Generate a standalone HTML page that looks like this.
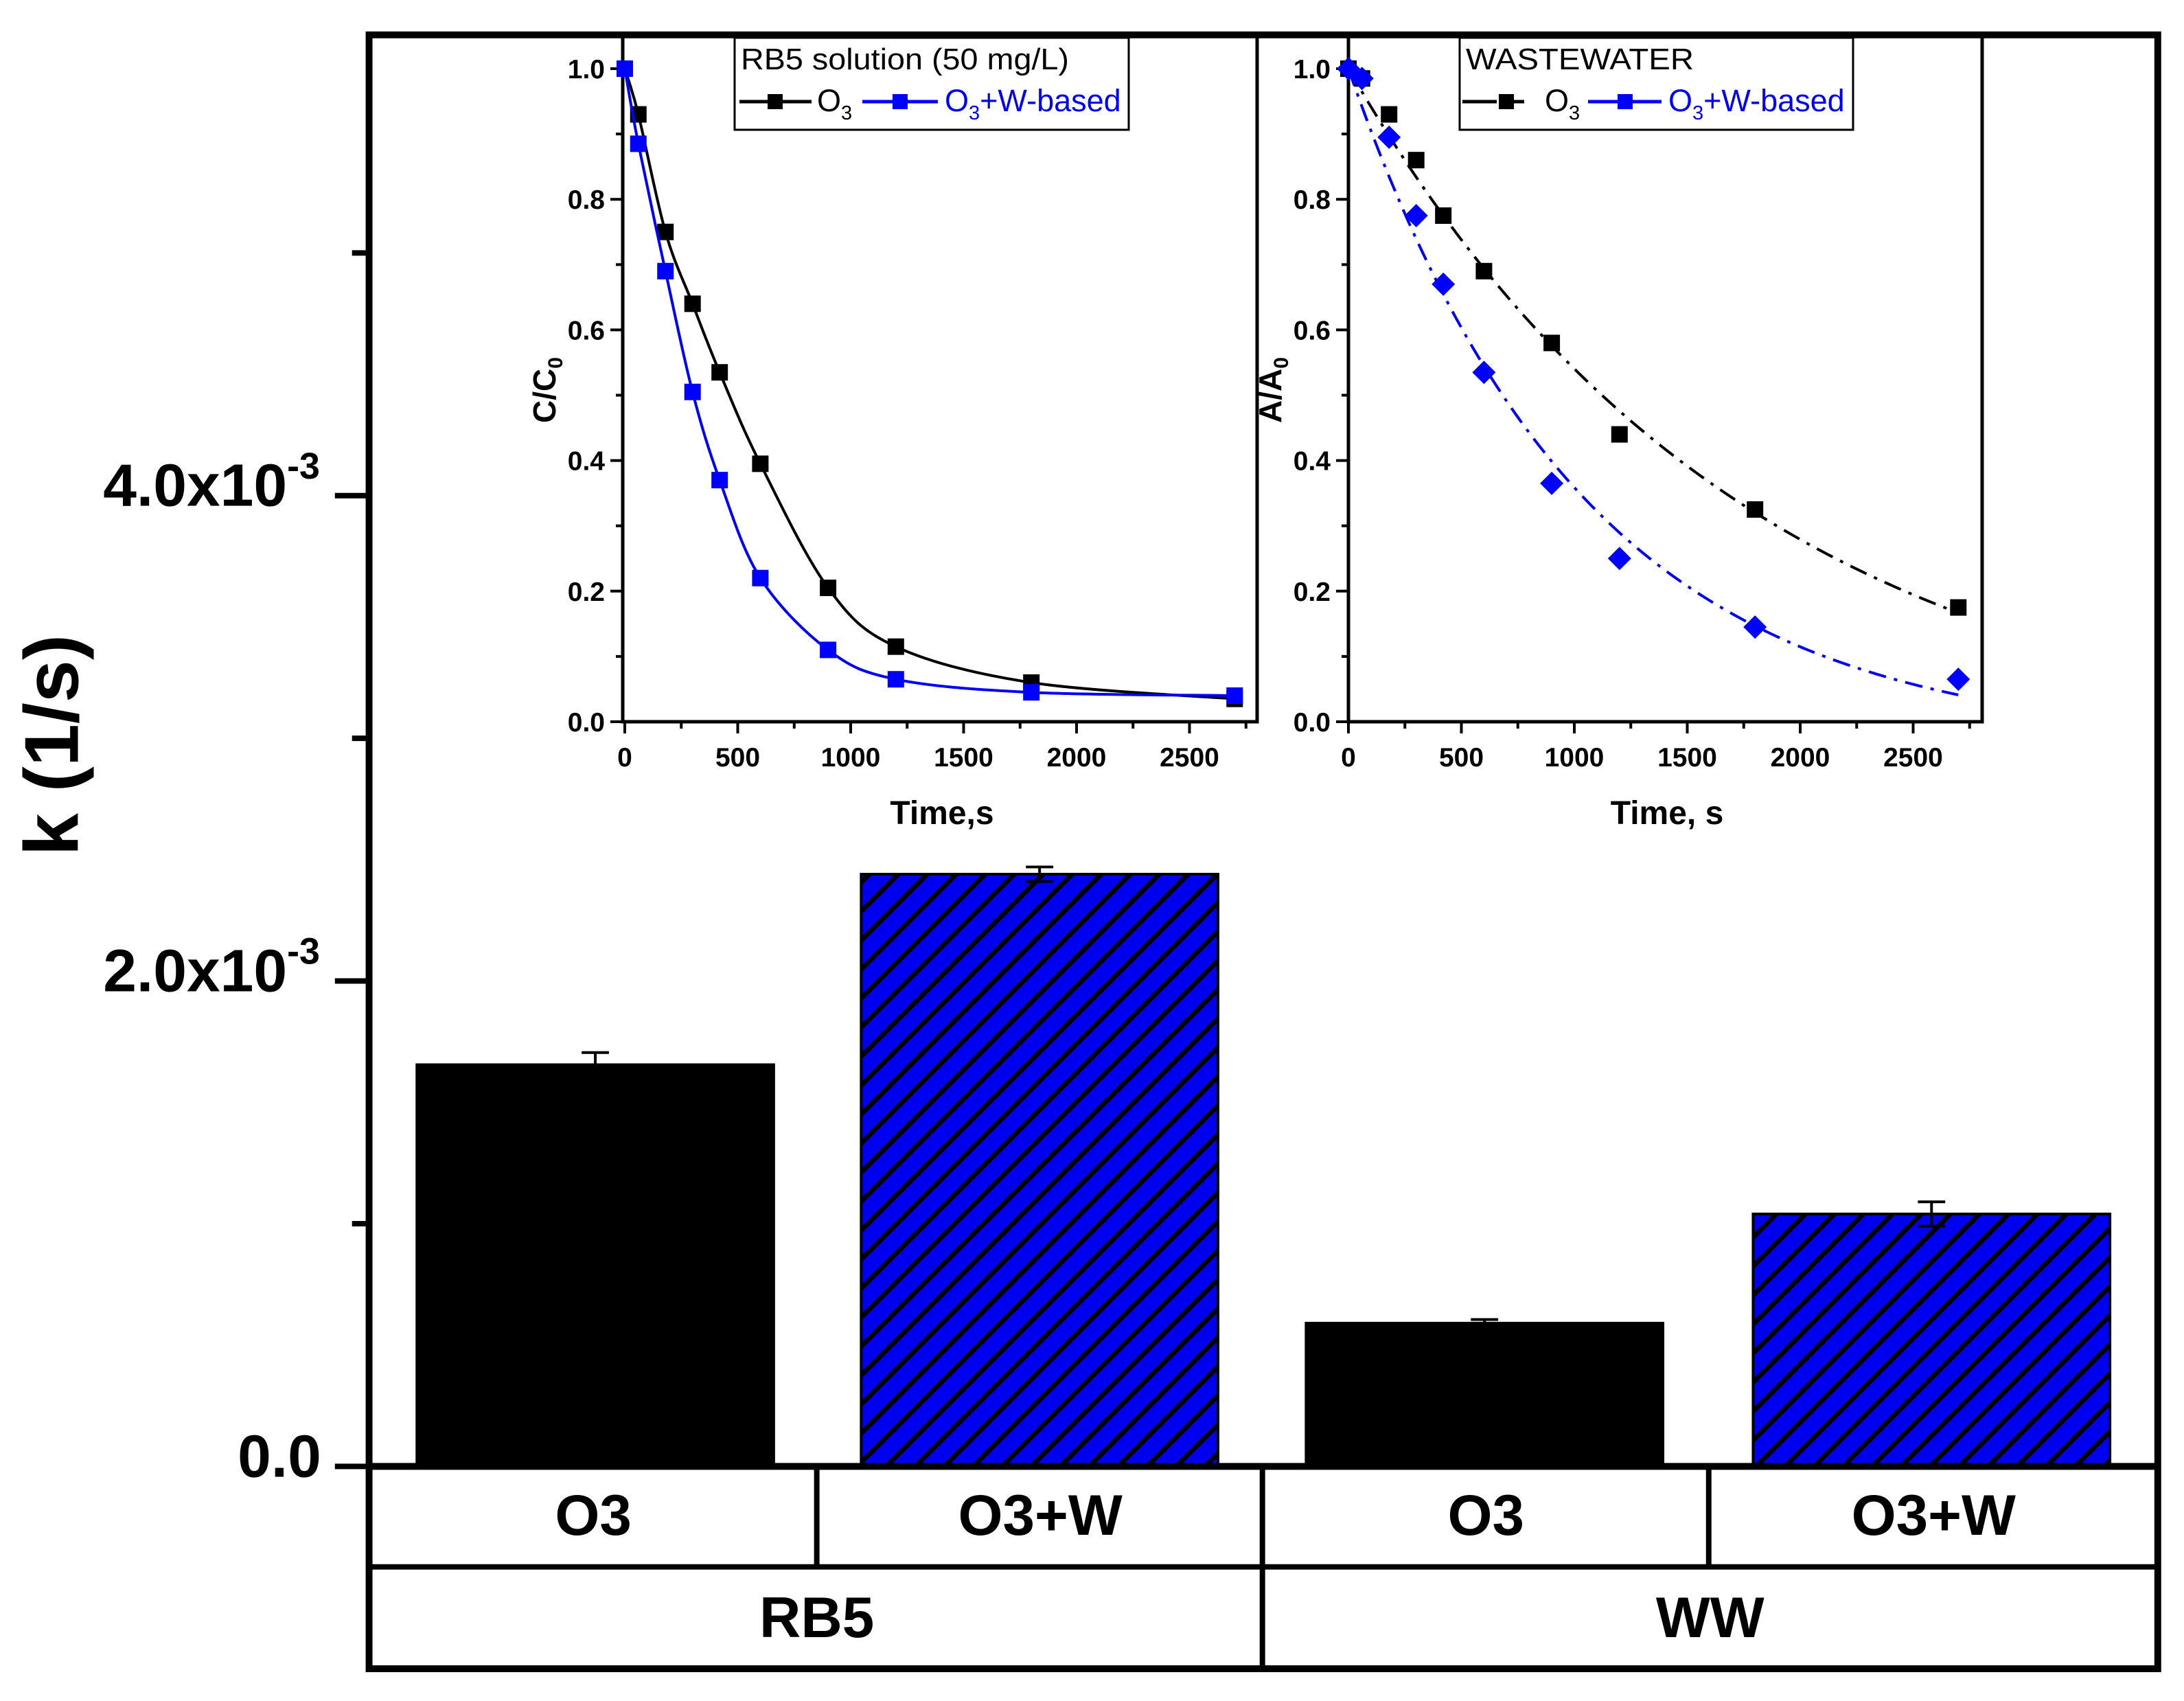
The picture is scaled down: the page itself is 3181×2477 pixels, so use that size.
<!DOCTYPE html>
<html><head><meta charset="utf-8"><style>
html,body{margin:0;padding:0;background:#fff;}
svg{display:block;font-family:"Liberation Sans",Arial,sans-serif;}
</style></head><body>
<svg id="chart" width="3181" height="2477" viewBox="0 0 3181 2477" xmlns="http://www.w3.org/2000/svg">
<defs>
<pattern id="hatch" patternUnits="userSpaceOnUse" width="30" height="30" patternTransform="rotate(45)">
<rect width="30" height="30" fill="#0000f0"/>
<rect x="0" y="0" width="7" height="30" fill="#000"/>
</pattern>
</defs>
<g transform="scale(0.9955)">
<g id="main"></g>
</g>
<g id="inset1"></g>
<g id="inset2"></g>
</svg>
<script>
// ---------- main bar chart data ----------
const barCategories = ["O3", "O3+W", "O3", "O3+W"];
const barGroups = ["RB5", "WW"];
const barValues = [1.655, 2.44, 0.59, 1.04];   // x1e-3 1/s
const barErrors = [0.05, 0.03, 0.015, 0.05];
const yTickValues = [0, 2, 4];
const yTickLabels = ["0.0", "2.0x10", "4.0x10"];
const yTickSup = ["", "-3", "-3"];
const yMinorValues = [1, 3, 5];

// ---------- inset data ----------
const timeVals = [0, 60, 180, 300, 420, 600, 900, 1200, 1800, 2700];
const rb5O3 = [1.0, 0.93, 0.75, 0.64, 0.535, 0.395, 0.205, 0.115, 0.06, 0.035];
const rb5O3W = [1.0, 0.885, 0.69, 0.505, 0.37, 0.22, 0.11, 0.065, 0.045, 0.04];
const wwO3 = [1.0, 0.985, 0.93, 0.86, 0.775, 0.69, 0.58, 0.44, 0.325, 0.175];
const wwO3W = [1.0, 0.985, 0.895, 0.775, 0.67, 0.535, 0.365, 0.25, 0.145, 0.065];
const insetXTicks = [0, 500, 1000, 1500, 2000, 2500];
const insetYTicks = [0, 0.2, 0.4, 0.6, 0.8, 1.0];

const NS = "http://www.w3.org/2000/svg";
function mk(tag, attrs, parent, text) {
  const e = document.createElementNS(NS, tag);
  for (const k in attrs) e.setAttribute(k, attrs[k]);
  if (text !== undefined) e.textContent = text;
  parent.appendChild(e);
  return e;
}

// ---------- main chart ----------
const main = document.getElementById("main");
const FL = 540, FR = 3157, FT = 51, FB = 2441, BASE = 2145, ROW1 = 2292;
const yPix = v => BASE - v * 355;
const barLefts = [610, 1260, 1911, 2565];
const barW = 522;

barValues.forEach((v, i) => {
  const r = mk("rect", {x: barLefts[i], y: yPix(v), width: barW, height: BASE - yPix(v),
    fill: i % 2 ? "url(#hatch)" : "#000", stroke: "#000", "stroke-width": 4}, main);
  
  
  const cx = barLefts[i] + barW / 2;
  const eb = mk("path", {d: `M${cx} ${yPix(v + barErrors[i])}V${yPix(v - barErrors[i])}M${cx-20} ${yPix(v + barErrors[i])}H${cx+20}M${cx-20} ${yPix(v - barErrors[i])}H${cx+20}`,
    stroke: "#000", "stroke-width": 4, fill: "none"}, main);
  
  
});

const frame = mk("rect", {x: FL, y: FT, width: FR - FL, height: FB - FT, fill: "none", stroke: "#000", "stroke-width": 10}, main);


mk("line", {x1: FL, x2: FR, y1: BASE, y2: BASE, stroke: "#000", "stroke-width": 10}, main);
mk("line", {x1: FL, x2: FR, y1: ROW1, y2: ROW1, stroke: "#000", "stroke-width": 8}, main);
mk("line", {x1: 1195, x2: 1195, y1: BASE, y2: ROW1, stroke: "#000", "stroke-width": 8}, main);
mk("line", {x1: 2500, x2: 2500, y1: BASE, y2: ROW1, stroke: "#000", "stroke-width": 8}, main);
mk("line", {x1: 1847, x2: 1847, y1: BASE, y2: FB, stroke: "#000", "stroke-width": 8}, main);

const catCenters = [868, 1522, 2174, 2829];
barCategories.forEach((c, i) => {
  const t = mk("text", {x: catCenters[i], y: 2245, "text-anchor": "middle", "font-size": 84, "font-weight": "bold"}, main, c);
  
  
});
const groupCenters = [1195, 2502];
barGroups.forEach((g, i) => {
  const t = mk("text", {x: groupCenters[i], y: 2395, "text-anchor": "middle", "font-size": 84, "font-weight": "bold"}, main, g);
  
  
});

yTickValues.forEach((v, i) => {
  const y = yPix(v);
  mk("line", {x1: 490, x2: FL, y1: y, y2: y, stroke: "#000", "stroke-width": 8}, main);
  const t = mk("text", {x: yTickSup[i] ? 420 : 470, y: y + 15, "text-anchor": "end", "font-size": 88, "font-weight": "bold"}, main, yTickLabels[i]);
  
  
  if (yTickSup[i]) mk("text", {x: 420, y: y - 25, "font-size": 54, "font-weight": "bold"}, main, yTickSup[i]);
});
yMinorValues.forEach(v => {
  mk("line", {x1: 515, x2: FL, y1: yPix(v), y2: yPix(v), stroke: "#000", "stroke-width": 8}, main);
});
const yt = mk("text", {x: 0, y: 0, transform: "translate(114,1090) rotate(-90)", "text-anchor": "middle", "font-size": 112, "font-weight": "bold"}, main, "k (1/s)");



// ---------- insets ----------
function smoothPath(pts) {
  let d = `M${pts[0][0]} ${pts[0][1]}`;
  for (let i = 0; i < pts.length - 1; i++) {
    const p0 = pts[Math.max(0, i - 1)], p1 = pts[i], p2 = pts[i + 1], p3 = pts[Math.min(pts.length - 1, i + 2)];
    const c1 = [p1[0] + (p2[0] - p0[0]) / 6, p1[1] + (p2[1] - p0[1]) / 6];
    const c2 = [p2[0] - (p3[0] - p1[0]) / 6, p2[1] - (p3[1] - p1[1]) / 6];
    d += `C${c1[0]} ${c1[1]} ${c2[0]} ${c2[1]} ${p2[0]} ${p2[1]}`;
  }
  return d;
}
function fitPath(vals, xP, yP) {
  let best = null;
  for (let k = 0.0001; k < 0.01; k *= 1.01) {
    for (let c = -0.3; c < 0.3; c += 0.005) {
      let e = 0;
      timeVals.forEach((t, i) => { const d = (1 - c) * Math.exp(-k * t) + c - vals[i]; e += d * d; });
      if (!best || e < best.e) best = {e, k, c};
    }
  }
  let d = "";
  for (let t = 0; t <= timeVals[timeVals.length - 1]; t += 20) {
    const y = (1 - best.c) * Math.exp(-best.k * t) + best.c;
    d += (d ? "L" : "M") + xP(t) + " " + yP(y);
  }
  return d;
}
function diamond(x, y, s) { return `M${x} ${y-s}L${x+s} ${y}L${x} ${y+s}L${x-s} ${y}Z`; }

function drawInset(gid, cfg) {
  const g = document.getElementById(gid);
  const xP = t => cfg.x0 + t * 0.329;
  const yP = v => 1051 - v * 951;
  mk("path", {d: `M${cfg.left} ${FT}V1051H${cfg.right}V${FT}`, fill: "none", stroke: "#000", "stroke-width": 5}, g);
  insetYTicks.forEach(v => {
    mk("line", {x1: cfg.left - 18, x2: cfg.left, y1: yP(v), y2: yP(v), stroke: "#000", "stroke-width": 4}, g);
    if (v < 1) mk("line", {x1: cfg.left - 10, x2: cfg.left, y1: yP(v + 0.1), y2: yP(v + 0.1), stroke: "#000", "stroke-width": 4}, g);
    const t = mk("text", {x: cfg.left - 26, y: yP(v) + 14, "text-anchor": "end", "font-size": 39, "font-weight": "bold"}, g, v.toFixed(1));
    
    
  });
  insetXTicks.forEach(v => {
    mk("line", {x1: xP(v), x2: xP(v), y1: 1051, y2: 1068, stroke: "#000", "stroke-width": 4}, g);
    mk("line", {x1: xP(v + 250), x2: xP(v + 250), y1: 1051, y2: 1061, stroke: "#000", "stroke-width": 4}, g);
    const t = mk("text", {x: xP(v), y: 1116, "text-anchor": "middle", "font-size": 39, "font-weight": "bold"}, g, String(v));
    
    
  });
  const xt = mk("text", {x: cfg.xTitleX, y: 1200, "text-anchor": "middle", "font-size": 48, "font-weight": "bold"}, g, cfg.xTitle);
  
  
  const ytl = mk("text", {transform: `translate(${cfg.left - 98},568) rotate(-90)`, "text-anchor": "middle", "font-size": 46, "font-weight": "bold"}, g);
  
  
  mk("tspan", {}, ytl, cfg.yMain);
  mk("tspan", {"font-size": 30, dy: 10}, ytl, "0");

  cfg.series.forEach(s => {
    const pts = timeVals.map((t, i) => [xP(t), yP(s.vals[i])]);
    const d = s.fit ? fitPath(s.vals, xP, yP) : smoothPath(pts);
    const line = mk("path", {d, fill: "none", stroke: s.color, "stroke-width": 4, "stroke-dasharray": s.dash || "none"}, g);
    
    
    pts.forEach(p => {
      const m = s.marker === "diamond"
        ? mk("path", {d: diamond(p[0], p[1], 17), fill: s.color}, g)
        : mk("rect", {x: p[0] - 12, y: p[1] - 12, width: 24, height: 24, fill: s.color}, g);
      
      
    });
  });

  const L = cfg.legend;
  const box = mk("rect", {x: L.x, y: 55, width: L.w, height: 134, fill: "#fff", stroke: "#000", "stroke-width": 3}, g);
  
  
  const title = mk("text", {x: L.x + 9, y: 101, "font-size": 44, textLength: L.tl, lengthAdjust: "spacingAndGlyphs"}, g, L.title);
  
  
  L.items.forEach(it => {
    mk("line", {x1: it.lx1, x2: it.lx2, y1: 148, y2: 148, stroke: it.color, "stroke-width": 5, "stroke-dasharray": it.dash || "none"}, g);
    if (it.marker === "diamond") mk("path", {d: diamond(it.mx, 148, 17), fill: it.color}, g);
    else mk("rect", {x: it.mx - 11, y: 137, width: 22, height: 22, fill: it.color}, g);
    const t = mk("text", {x: it.tx, y: 162, "font-size": 45, fill: it.color}, g);
    
    
    mk("tspan", {}, t, "O");
    mk("tspan", {"font-size": 29, dy: 12}, t, "3");
    if (it.suffix) mk("tspan", {dy: -12}, t, it.suffix);
  });
}

drawInset("inset1", {
  left: 907, right: 1831, x0: 910, xTitle: "Time,s", xTitleX: 1372, yMain: "C/C",
  series: [
    {name: "rb5-o3", vals: rb5O3, color: "#000", marker: "square"},
    {name: "rb5-o3w", vals: rb5O3W, color: "#0000ff", marker: "square"}
  ],
  legend: {x: 1070, w: 574, tl: 478, title: "RB5 solution (50 mg/L)", items: [
    {lx1: 1077, lx2: 1182, mx: 1129, tx: 1190, color: "#000"},
    {lx1: 1256, lx2: 1366, mx: 1311, tx: 1376, color: "#0000ff", suffix: "+W-based"}
  ]}
});
drawInset("inset2", {
  left: 1964, right: 2887, x0: 1964, xTitle: "Time, s", xTitleX: 2428, yMain: "A/A",
  series: [
    {name: "ww-o3", vals: wwO3, color: "#000", marker: "square", dash: "26 12 5 12", fit: true},
    {name: "ww-o3w", vals: wwO3W, color: "#0000ff", marker: "diamond", dash: "26 12 5 12", fit: true}
  ],
  legend: {x: 2126, w: 573, tl: 332, title: "WASTEWATER", items: [
    {lx1: 2130, lx2: 2240, mx: 2194, tx: 2250, color: "#000", dash: "50 18 22 100"},
    {lx1: 2313, lx2: 2420, mx: 2367, tx: 2430, color: "#0000ff", suffix: "+W-based"}
  ]}
});
</script>
</body></html>
